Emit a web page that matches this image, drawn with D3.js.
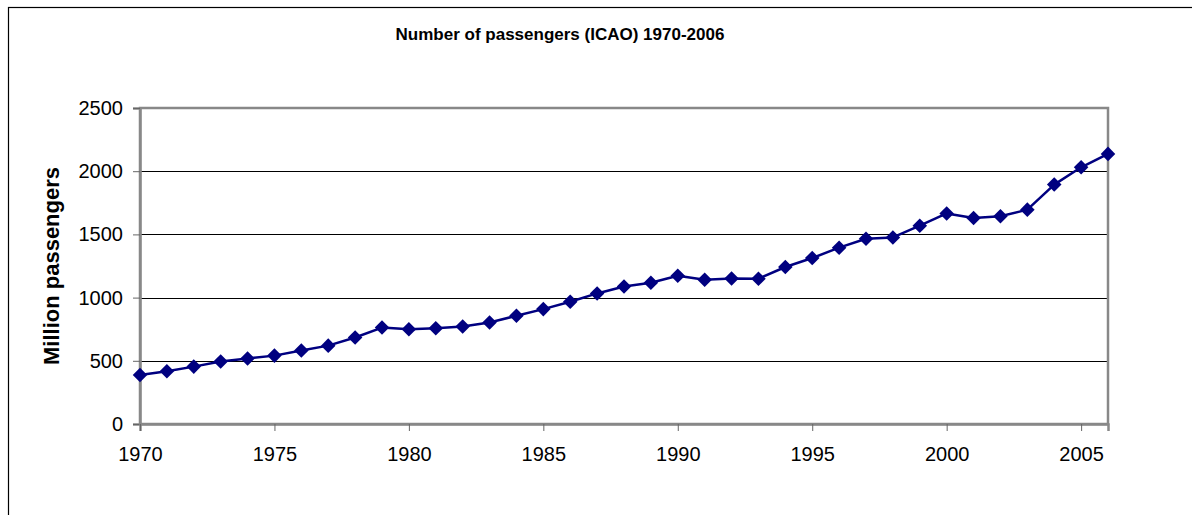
<!DOCTYPE html>
<html>
<head>
<meta charset="utf-8">
<script src="https://cdn.jsdelivr.net/npm/d3@7"></script>
<style>
  html, body { margin: 0; padding: 0; background: #fff; }
  svg { display: block; font-family: Arial, "Liberation Sans", sans-serif; }
</style>
</head>
<body>
<svg id="chart" width="1192" height="515"></svg>
<script>
// Air passengers carried worldwide (ICAO), millions
const years = [1970, 1971, 1972, 1973, 1974, 1975, 1976, 1977, 1978, 1979,
               1980, 1981, 1982, 1983, 1984, 1985, 1986, 1987, 1988, 1989,
               1990, 1991, 1992, 1993, 1994, 1995, 1996, 1997, 1998, 1999,
               2000, 2001, 2002, 2003, 2004, 2005, 2006];
const passengers = [388, 417, 454, 494, 518, 541, 581, 620, 684, 763,
                    750, 758, 771, 803, 856, 909, 967, 1033, 1088, 1117,
                    1173, 1141, 1151, 1149, 1242, 1313, 1395, 1466, 1476, 1569,
                    1666, 1630, 1643, 1696, 1894, 2031, 2137];
const yTicks = [0, 500, 1000, 1500, 2000, 2500];
const xTicks = [1970, 1975, 1980, 1985, 1990, 1995, 2000, 2005];
const chartTitle = "Number of passengers (ICAO) 1970-2006";
const yTitle = "Million passengers";

const svg = d3.select("#chart");
const plot = { left: 140, right: 1108, top: 108, bottom: 424 };

const x = d3.scaleLinear().domain([1970, 2006]).range([plot.left, plot.right]);
const y = d3.scaleLinear().domain([0, 2500]).range([plot.bottom, plot.top]);

// outer chart frame (only left and top edges fall inside the canvas)
svg.append("rect")
  .attr("x", 8.5).attr("y", 7.5)
  .attr("width", 1300).attr("height", 600)
  .attr("fill", "#fff").attr("stroke", "#000").attr("stroke-width", 1.2);

// title
svg.append("text")
  .attr("x", 560).attr("y", 40)
  .attr("text-anchor", "middle")
  .attr("font-weight", "bold").attr("font-size", 17)
  .text(chartTitle);

// gridlines
svg.append("g")
  .selectAll("line")
  .data(yTicks.filter(d => d > 0 && d < 2500))
  .join("line")
  .attr("x1", plot.left).attr("x2", plot.right)
  .attr("y1", d => Math.round(y(d)) + 0.5).attr("y2", d => Math.round(y(d)) + 0.5)
  .attr("stroke", "#000").attr("stroke-width", 1);

// plot area border
svg.append("rect")
  .attr("x", plot.left).attr("y", plot.top)
  .attr("width", plot.right - plot.left).attr("height", plot.bottom - plot.top)
  .attr("fill", "none").attr("stroke", "#888").attr("stroke-width", 2.5);

// y axis
const yAxis = svg.append("g")
  .attr("transform", `translate(${plot.left},0)`)
  .call(d3.axisLeft(y).tickValues(yTicks).tickSize(7).tickPadding(10).tickFormat(d3.format("d")));
yAxis.select(".domain").attr("stroke", "#888").attr("stroke-width", 2.5);
yAxis.selectAll(".tick line").attr("stroke", "#666");
yAxis.selectAll(".tick text")
  .attr("font-size", 20).attr("font-family", "Arial, 'Liberation Sans', sans-serif").attr("fill", "#000");

// x axis
const xAxis = svg.append("g")
  .attr("transform", `translate(0,${plot.bottom})`)
  .call(d3.axisBottom(x).tickValues(xTicks).tickSize(7).tickPadding(16).tickFormat(d3.format("d")));
xAxis.select(".domain").attr("stroke", "#888").attr("stroke-width", 2.5);
xAxis.selectAll(".tick line").attr("stroke", "#666");
xAxis.selectAll(".tick text")
  .attr("font-size", 20).attr("font-family", "Arial, 'Liberation Sans', sans-serif").attr("fill", "#000");

// y axis title
svg.append("text")
  .attr("transform", `translate(59,${(plot.top + plot.bottom) / 2}) rotate(-90)`)
  .attr("text-anchor", "middle")
  .attr("font-weight", "bold").attr("font-size", 22)
  .text(yTitle);

// data line
const data = years.map((yr, i) => ({ yr, v: passengers[i] }));
svg.append("path")
  .datum(data)
  .attr("fill", "none")
  .attr("stroke", "#000080")
  .attr("stroke-width", 2.5)
  .attr("stroke-linejoin", "round")
  .attr("d", d3.line().x(d => x(d.yr)).y(d => y(d.v)));

// diamond markers
const diamond = d3.symbol().type(d3.symbolDiamond2).size(135);
svg.append("g")
  .selectAll("path")
  .data(data)
  .join("path")
  .attr("transform", d => `translate(${x(d.yr)},${y(d.v)})`)
  .attr("d", diamond)
  .attr("fill", "#000080");
</script>
</body>
</html>
